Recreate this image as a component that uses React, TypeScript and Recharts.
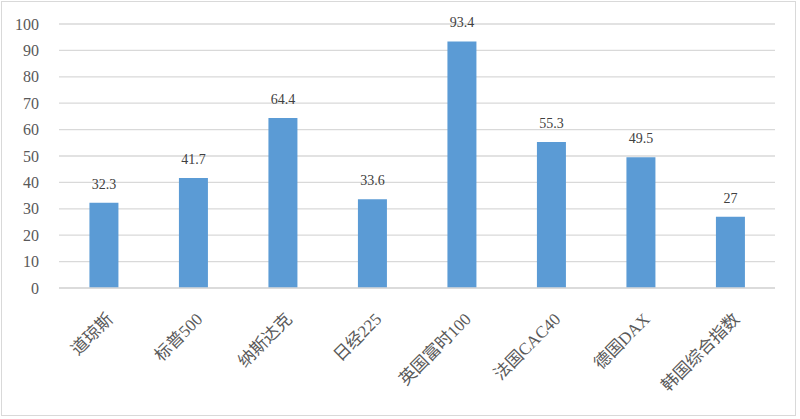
import React from 'react';
import { BarChart, Bar, XAxis, YAxis, CartesianGrid, LabelList } from 'recharts';

const categories = ['道琼斯', '标普500', '纳斯达克', '日经225', '英国富时100', '法国CAC40', '德国DAX', '韩国综合指数'];
const values = [32.3, 41.7, 64.4, 33.6, 93.4, 55.3, 49.5, 27];
const yTicks = [0, 10, 20, 30, 40, 50, 60, 70, 80, 90, 100];

const data = categories.map((name, i) => ({ name, value: values[i] }));

const FONT = '"Liberation Serif", "DejaVu Serif", "Noto Sans CJK SC", serif';

const XTick = (props: any) => {
  const { x, y, payload } = props;
  return (
    <g transform={`translate(${x + 6},${y + 20})`}>
      <text
        x={0}
        y={0}
        dy={6}
        textAnchor="end"
        transform="rotate(-45)"
        fill="#595959"
        fontSize={17}
        fontFamily={FONT}
      >
        {payload.value}
      </text>
    </g>
  );
};

export default function App() {
  return (
    <div style={{ position: 'absolute', left: 0, top: 0, width: 800, height: 419, background: '#fff' }}>
      <div
        style={{
          position: 'absolute',
          left: 1,
          top: 1,
          width: 795,
          height: 415,
          border: '1px solid #d9d9d9',
          boxSizing: 'border-box',
        }}
      />
      <BarChart
        width={800}
        height={419}
        data={data}
        margin={{ top: 24, right: 25, bottom: 0, left: 0 }}
        barCategoryGap="34%"
      >
        <CartesianGrid vertical={false} stroke="#d9d9d9" strokeWidth={1.3} />
        <XAxis
          dataKey="name"
          tick={<XTick />}
          tickLine={false}
          axisLine={{ stroke: '#d9d9d9', strokeWidth: 1.3 }}
          height={131}
          interval={0}
        />
        <YAxis
          domain={[0, 100]}
          ticks={yTicks}
          width={59}
          tickLine={false}
          axisLine={false}
          tick={{ fill: '#595959', fontSize: 16, fontFamily: FONT }}
          tickMargin={14}
        />
        <Bar dataKey="value" fill="#5b9bd5" isAnimationActive={false}>
          <LabelList
            dataKey="value"
            position="top"
            offset={14}
            fill="#404040"
            fontSize={14}
            fontFamily={FONT}
          />
        </Bar>
      </BarChart>
    </div>
  );
}
